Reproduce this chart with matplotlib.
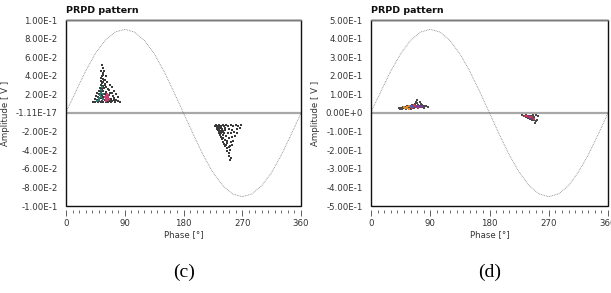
import matplotlib
matplotlib.use("Agg")
import matplotlib.pyplot as plt
from matplotlib.patches import Rectangle
from matplotlib.ticker import MultipleLocator, FixedLocator

# ---------------- data ----------------
sine_phase = [0, 15, 30, 45, 60, 75, 90, 105, 120, 135, 150, 165, 180,
              195, 210, 225, 240, 255, 270, 285, 300, 315, 330, 345, 360]
sine_c = [0.001, 0.023, 0.045, 0.064, 0.078, 0.087, 0.090, 0.087, 0.078, 0.064, 0.045, 0.023, 0.0,
          -0.023, -0.045, -0.064, -0.078, -0.087, -0.090, -0.087, -0.078, -0.064, -0.045, -0.023, 0.0]
sine_d = [0.005, 0.116, 0.225, 0.318, 0.390, 0.435, 0.450, 0.435, 0.390, 0.318, 0.225, 0.116, 0.0,
          -0.116, -0.225, -0.318, -0.390, -0.435, -0.450, -0.435, -0.390, -0.318, -0.225, -0.116, 0.0]

# panel (c) clusters
c_dark_phase = [55, 56, 54, 56, 55, 57, 53, 56, 58, 54, 55, 57, 59, 53, 56, 60, 62, 52, 55, 58, 64, 66, 50, 53, 57,
                61, 68, 70, 48, 51, 55, 59, 63, 66, 72, 46, 49, 53, 57, 61, 65, 69, 74, 77, 44, 47, 51, 55, 59,
                63, 67, 71, 75, 80, 83, 42, 45, 49, 53, 57, 61, 65, 69, 73, 60, 63, 67, 70, 73, 76, 79, 58, 62,
                230, 232, 234, 236, 238, 240, 242, 245, 248, 252, 256, 260, 264, 268, 231, 233, 235, 237, 239,
                241, 244, 250, 255, 262, 266, 234, 236, 238, 240, 242, 245, 248, 253, 258, 262, 237, 239, 241,
                243, 246, 250, 255, 259, 240, 242, 245, 247, 252, 256, 244, 246, 249, 251, 254, 246, 249, 251,
                250, 252, 251, 235, 233, 229, 236, 244, 232, 234, 238, 236, 240]
c_dark_amp = [0.052, 0.048, 0.045, 0.043, 0.040, 0.041, 0.038, 0.037, 0.036, 0.034, 0.032, 0.033, 0.031, 0.030,
              0.029, 0.030, 0.028, 0.027, 0.026, 0.027, 0.026, 0.025, 0.024, 0.023, 0.024, 0.023, 0.022, 0.021,
              0.021, 0.020, 0.019, 0.020, 0.019, 0.019, 0.018, 0.018, 0.017, 0.016, 0.017, 0.016, 0.016, 0.015,
              0.016, 0.014, 0.015, 0.014, 0.013, 0.013, 0.014, 0.013, 0.013, 0.013, 0.012, 0.013, 0.012, 0.012,
              0.012, 0.012, 0.012, 0.012, 0.012, 0.012, 0.012, 0.014, 0.036, 0.033, 0.030, 0.028, 0.024, 0.020,
              0.017, 0.045, 0.040,
              -0.013, -0.014, -0.013, -0.015, -0.014, -0.013, -0.014, -0.013, -0.014, -0.013, -0.014, -0.013,
              -0.014, -0.013, -0.016, -0.018, -0.017, -0.019, -0.017, -0.020, -0.018, -0.017, -0.018, -0.017,
              -0.016, -0.021, -0.023, -0.022, -0.024, -0.022, -0.025, -0.021, -0.022, -0.020, -0.021, -0.026,
              -0.028, -0.027, -0.029, -0.030, -0.027, -0.026, -0.025, -0.031, -0.033, -0.034, -0.032, -0.031,
              -0.030, -0.036, -0.038, -0.037, -0.035, -0.034, -0.041, -0.043, -0.040, -0.046, -0.048, -0.050,
              -0.019, -0.015, -0.014, -0.024, -0.016, -0.017, -0.020, -0.016, -0.020, -0.019]
c_green_phase = [50, 52, 54, 51, 56, 53, 48, 55, 57, 54]
c_green_amp = [0.016, 0.019, 0.022, 0.014, 0.015, 0.025, 0.013, 0.028, 0.020, 0.017]
c_red_phase = [62, 63, 64, 65, 61, 63, 66, 64, 62, 60]
c_red_amp = [0.018, 0.016, 0.019, 0.017, 0.015, 0.020, 0.015, 0.014, 0.013, 0.017]

# panel (d) clusters
d_dark_phase = [42, 45, 48, 50, 52, 55, 57, 60, 62, 65, 67, 70, 72, 74, 76, 78, 80, 83, 86, 70, 68, 73, 63, 58,
                53, 47, 44, 60, 66, 75, 81,
                229, 232, 235, 238, 240, 243, 246, 250, 253, 236, 239, 242, 245, 248, 244, 247, 250, 249, 252, 241]
d_dark_amp = [0.025, 0.028, 0.030, 0.026, 0.033, 0.035, 0.030, 0.038, 0.042, 0.040, 0.048, 0.052, 0.045, 0.058,
              0.050, 0.044, 0.040, 0.036, 0.032, 0.068, 0.060, 0.040, 0.030, 0.028, 0.022, 0.022, 0.020, 0.022,
              0.028, 0.034, 0.028,
              -0.012, -0.015, -0.013, -0.018, -0.014, -0.016, -0.013, -0.012, -0.014, -0.022, -0.025, -0.021,
              -0.028, -0.024, -0.035, -0.040, -0.045, -0.052, -0.038, -0.030]
d_orange_phase = [52, 55, 58, 54, 57, 50]
d_orange_amp = [0.025, 0.028, 0.024, 0.032, 0.037, 0.030]
d_blue_phase = [60, 62, 64, 66, 68, 61]
d_blue_amp = [0.030, 0.035, 0.032, 0.036, 0.033, 0.040]
d_purple_phase = [70, 72, 74, 76, 78, 238, 242, 246, 240]
d_purple_amp = [0.035, 0.038, 0.030, 0.040, 0.032, -0.020, -0.026, -0.034, -0.016]
d_red_phase = [63, 67, 71, 65, 234, 237, 241, 244, 247]
d_red_amp = [0.026, 0.040, 0.028, 0.045, -0.018, -0.016, -0.020, -0.022, -0.030]

c_yticks = [0.1, 0.08, 0.06, 0.04, 0.02, 0.0, -0.02, -0.04, -0.06, -0.08, -0.1]
c_ylabels = ["1.00E-1", "8.00E-2", "6.00E-2", "4.00E-2", "2.00E-2",
             "-1.11E-17", "-2.00E-2", "-4.00E-2", "-6.00E-2", "-8.00E-2", "-1.00E-1"]
d_yticks = [0.5, 0.4, 0.3, 0.2, 0.1, 0.0, -0.1, -0.2, -0.3, -0.4, -0.5]
d_ylabels = ["5.00E-1", "4.00E-1", "3.00E-1", "2.00E-1", "1.00E-1", "0.00E+0",
             "-1.00E-1", "-2.00E-1", "-3.00E-1", "-4.00E-1", "-5.00E-1"]
xticks = [0, 90, 180, 270, 360]
xlabels = ["0", "90", "180", "270", "360"]

# ---------------- figure ----------------
W, H = 611, 293
fig = plt.figure(figsize=(W / 100, H / 100), dpi=100)
plt.rcParams['font.family'] = ['DejaVu Sans']

def make_axes(left_px, right_px, top_px, bottom_px):
    return fig.add_axes([left_px / W, 1 - bottom_px / H, (right_px - left_px) / W, (bottom_px - top_px) / H])

def panel(ax, sine, lim, yticks, ylabels, layers, caption, cap_x):
    ax.set_xlim(0, 360)
    ax.set_ylim(-lim, lim)
    ax.axhline(0, color="#a8a8a8", lw=1.6, zorder=1)
    ax.plot(sine_phase, sine, color="#6f6f6f", lw=0.55, ls=(0, (1, 1.2)), zorder=2)
    for ph, am, col in layers:
        ax.scatter(ph, am, s=1.0, color=col, marker="s", linewidths=0, zorder=3)
    for s in ax.spines.values():
        s.set_visible(False)
    ax.add_patch(Rectangle((0, 0), 1, 1, transform=ax.transAxes, fill=False,
                           edgecolor="#111111", lw=1.0, zorder=5, clip_on=False))
    ax.plot([0, 1], [1, 1], transform=ax.transAxes, color="#7a7a7a", lw=1.0, zorder=6, clip_on=False)
    ax.spines['bottom'].set_visible(True)
    ax.spines['bottom'].set_color("none")
    ax.spines['bottom'].set_position(('outward', 3))
    ax.xaxis.set_major_locator(FixedLocator(xticks))
    ax.set_xticklabels(xlabels)
    ax.xaxis.set_minor_locator(MultipleLocator(10))
    ax.tick_params(axis="x", which="major", length=4, width=0.6, color="#444444", labelsize=6.2,
                   pad=2, labelcolor="#333333")
    ax.tick_params(axis="x", which="minor", length=2, width=0.6, color="#555555")
    ax.set_yticks(yticks)
    ax.set_yticklabels(ylabels)
    ax.tick_params(axis="y", length=0, pad=6, labelsize=6.2, labelcolor="#333333")
    ax.set_xlabel("Phase [°]", fontsize=6.2, labelpad=2, color="#333333")
    ax.set_ylabel("Amplitude [ V ]", fontsize=6.2, labelpad=4, color="#333333")
    ax.set_title("PRPD pattern", fontsize=6.8, fontweight="bold", loc="left", pad=5, color="#111111")
    fig.text(cap_x / W, 1 - 272 / H, caption, ha="center", va="center",
             fontsize=14, family="Liberation Serif")

ax1 = make_axes(66, 301, 20, 206)
panel(ax1, sine_c, 0.1, c_yticks, c_ylabels,
      [(c_dark_phase, c_dark_amp, "#3a3a3a"),
       (c_green_phase, c_green_amp, "#2f7a70"),
       (c_red_phase, c_red_amp, "#c8406e")],
      "(c)", 184)

ax2 = make_axes(371, 608, 20, 206)
panel(ax2, sine_d, 0.5, d_yticks, d_ylabels,
      [(d_dark_phase, d_dark_amp, "#4a4a4a"),
       (d_orange_phase, d_orange_amp, "#e08a2a"),
       (d_blue_phase, d_blue_amp, "#4060c0"),
       (d_purple_phase, d_purple_amp, "#7a3a9a"),
       (d_red_phase, d_red_amp, "#c83a4a")],
      "(d)", 490)

fig.savefig("out.png", dpi=100)
